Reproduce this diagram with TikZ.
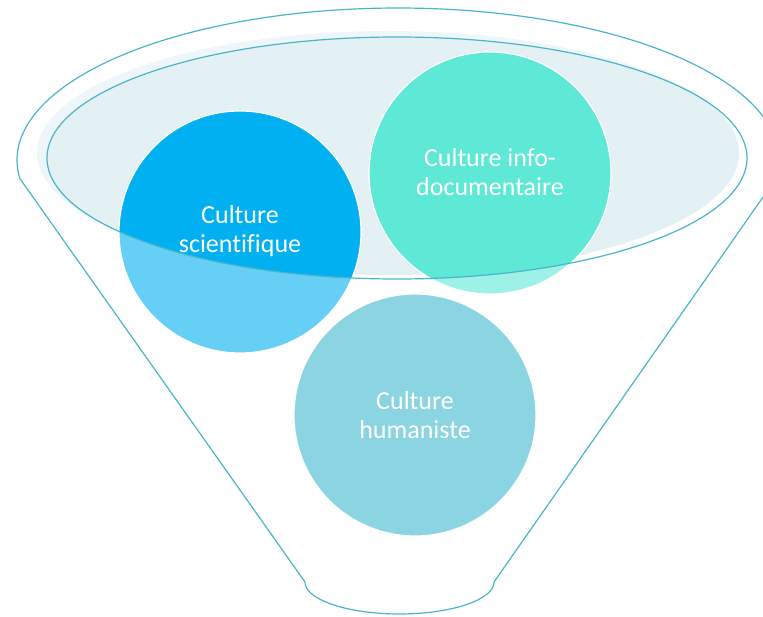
\documentclass[tikz,border=0pt]{standalone}
\usepackage{fontspec}
\setmainfont{Carlito}[Ligatures=NoCommon]
\definecolor{funnelline}{HTML}{4AB5CA}
\definecolor{bowlfill}{HTML}{E3F1F5}
\definecolor{bowledge}{HTML}{EEF6F9}
\definecolor{scicol}{HTML}{00B0F0}
\definecolor{scilight}{HTML}{66CFF6}
\definecolor{infocol}{HTML}{5EE8D6}
\definecolor{infolight}{HTML}{9EF1E6}
\definecolor{humcol}{HTML}{8BD5E3}
\tikzset{
  outline/.style={draw=funnelline, line width=1.2pt},
  ring/.style={draw=white, line width=1.2pt},
  label/.style={text=white, align=center, font=\fontsize{26}{28.5}\selectfont, inner sep=0pt}
}
\begin{document}
\begin{tikzpicture}[x=1pt,y=-1pt]
\useasboundingbox (0,0) rectangle (763,617);
% funnel outline
\draw[outline, line join=round]
  (494,582) -- (776,178.5)
  -- plot[domain=-7:187, samples=120, variable=\t] ({398+381*cos(\t)}, {160-152*sin(\t)})
  -- (305,582)
  -- plot[domain=180:360, samples=60, variable=\t] ({399.5+94.5*cos(\t)}, {582-32*sin(\t)})
  -- cycle;
% bowl fill
\fill[bowledge] (388,153) ellipse [x radius=351, y radius=122];
\begin{scope}
  \clip (388,153) ellipse [x radius=351, y radius=122];
  \fill[bowlfill] (397,158) ellipse [x radius=350, y radius=121];
\end{scope}
% circles, lighter outside the bowl
\fill[scilight] (240,232) circle [radius=121];
\fill[infolight] (490,173) circle [radius=121];
\begin{scope}
  \clip (397,158) ellipse [x radius=350, y radius=121];
  \fill[scicol] (240,232) circle [radius=121];
  \fill[infocol] (490,173) circle [radius=121];
\end{scope}
\draw[ring] (240,232) circle [radius=121];
\draw[ring] (490,173) circle [radius=121];
\fill[humcol] (415,415) circle [radius=121];
\draw[ring] (415,415) circle [radius=121];
% bowl rim
\draw[outline] (397,158) ellipse [x radius=350, y radius=121];
% labels
\node[label] (sci) at (240,231) {Culture\\scientifique};
\node[label] (info) at (490,172) {Culture info-\\documentaire};
\node[label] (hum) at (415,415) {Culture\\humaniste};
\end{tikzpicture}
\end{document}
